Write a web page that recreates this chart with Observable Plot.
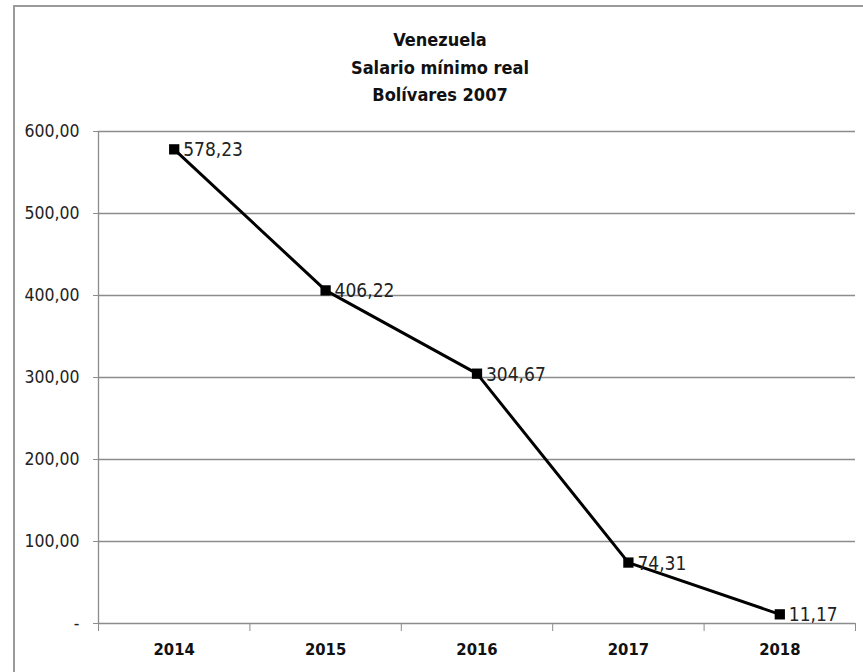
<!DOCTYPE html>
<html>
<head>
<meta charset="utf-8">
<script src="https://cdn.jsdelivr.net/npm/d3@7"></script>
<script src="https://cdn.jsdelivr.net/npm/@observablehq/plot@0.6"></script>
<style>
  html, body { margin: 0; padding: 0; background: #fff; }
  #wrap { position: relative; width: 863px; height: 672px; overflow: hidden;
    font-family: "Liberation Sans Narrow", "DejaVu Sans Condensed", "Open Sans", sans-serif; }
  #frame { position: absolute; left: 13px; top: 5px; width: 900px; height: 700px;
    border: 2px solid #9a9a9a; box-sizing: border-box; pointer-events: none; }
  #title { position: absolute; left: 0; width: 880px; top: 26px; text-align: center;
    font-weight: bold; font-size: 18px; line-height: 27.5px; color: #111; }
  #chart { position: absolute; left: 0; top: 0; }
</style>
</head>
<body>
<div id="wrap">
  <div id="chart"></div>
  <div id="frame"></div>
  <div id="title">Venezuela<br>Salario mínimo real<br>Bolívares 2007</div>
</div>
<script>
const years = [2014, 2015, 2016, 2017, 2018];
const values = [578.23, 406.22, 304.67, 74.31, 11.17];
const valueLabels = ["578,23", "406,22", "304,67", "74,31", "11,17"];
const yTicks = [0, 100, 200, 300, 400, 500, 600];

const data = years.map((y, i) => ({year: y, value: values[i], label: valueLabels[i]}));
const boundaries = [years[0] - 0.5, ...years.map(y => y + 0.5)];
const fmt = v => v === 0 ? "-" : d3.format(".2f")(v).replace(".", ",");
const font = '"Liberation Sans Narrow", "DejaVu Sans Condensed", "Open Sans", sans-serif';

const chart = Plot.plot({
  width: 863,
  height: 672,
  marginLeft: 98,
  marginRight: 8,
  marginTop: 131,
  marginBottom: 49,
  style: {fontFamily: font, fontSize: "17px", color: "#222", background: "transparent"},
  x: {type: "linear", domain: [years[0] - 0.5, years[years.length - 1] + 0.5]},
  y: {domain: [0, 600]},
  marks: [
    Plot.ruleY(yTicks, {stroke: "#8c8c8c", strokeWidth: 1.3}),
    Plot.ruleX([boundaries[0]], {stroke: "#8c8c8c", strokeWidth: 1.3}),
    Plot.axisY({ticks: yTicks, tickFormat: fmt, tickSize: 5, tickPadding: 14, stroke: "#8c8c8c",
      label: null, fontSize: 17.5, fill: "#222"}),
    Plot.axisX({ticks: boundaries, tickFormat: () => "", tickSize: 8, stroke: "#8c8c8c", label: null}),
    Plot.axisX({ticks: years, tickFormat: d => String(d), tickSize: 0, tickPadding: 20, label: null,
      fontWeight: "bold", fontSize: 16.5, fill: "#111"}),
    Plot.line(data, {x: "year", y: "value", stroke: "#000", strokeWidth: 3}),
    Plot.dot(data, {x: "year", y: "value", symbol: "square", r: 5.8, fill: "#000", stroke: null}),
    Plot.text(data, {x: "year", y: "value", text: "label", textAnchor: "start", dx: 9, dy: 1,
      fontSize: 19, fill: "#222"})
  ]
});
document.getElementById("chart").appendChild(chart);
</script>
</body>
</html>
